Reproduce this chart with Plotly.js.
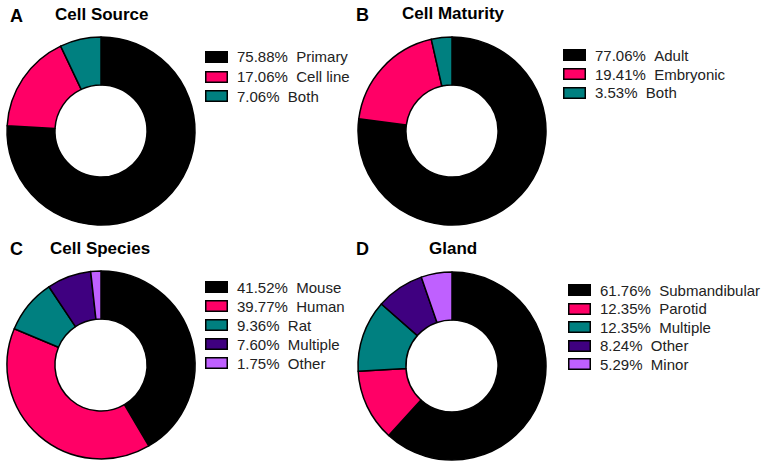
<!DOCTYPE html>
<html>
<head>
<meta charset="utf-8">
<script src="https://cdn.plot.ly/plotly-3.0.1.min.js"></script>
<style>
  html, body { margin: 0; padding: 0; background: #fff; }
  #chart { width: 763px; height: 463px; }
</style>
</head>
<body>
<div id="chart"></div>
<script>
// data
const sourceLabels = ['Primary', 'Cell line', 'Both'];
const sourceValues = [75.88, 17.06, 7.06];

const maturityLabels = ['Adult', 'Embryonic', 'Both'];
const maturityValues = [77.06, 19.41, 3.53];

const speciesLabels = ['Mouse', 'Human', 'Rat', 'Multiple', 'Other'];
const speciesValues = [41.52, 39.77, 9.36, 7.60, 1.75];

const glandLabels = ['Submandibular', 'Parotid', 'Multiple', 'Other', 'Minor'];
const glandValues = [61.76, 12.35, 12.35, 8.24, 5.29];

const palette = ['#000000', '#ff0066', '#008080', '#3f0080', '#bf60ff'];

const W = 763, H = 463;
const px = x => x / W;
const py = y => 1 - y / H;

// panel geometry in pixels: donut centre, legend anchor, title spots
const panels = [
  { letter: 'A', title: 'Cell Source', labels: sourceLabels, values: sourceValues,
    cx: 101, cy: 131, letterX: 8, titleX: 53, titleY: 15, legX: 205, legY: 57, step: 19.5 },
  { letter: 'B', title: 'Cell Maturity', labels: maturityLabels, values: maturityValues,
    cx: 452, cy: 131, letterX: 354, titleX: 400, titleY: 14, legX: 563, legY: 55, step: 19 },
  { letter: 'C', title: 'Cell Species', labels: speciesLabels, values: speciesValues,
    cx: 101, cy: 365, letterX: 8, titleX: 48, titleY: 248, legX: 205, legY: 287, step: 19 },
  { letter: 'D', title: 'Gland', labels: glandLabels, values: glandValues,
    cx: 452, cy: 366, letterX: 354, titleX: 427, titleY: 248, legX: 568, legY: 290, step: 18.5 }
];
const R = 94;

const traces = [];
const annotations = [];

panels.forEach(p => {
  traces.push({
    type: 'pie',
    labels: p.labels,
    values: p.values,
    hole: 0.49,
    sort: false,
    direction: 'clockwise',
    rotation: 0,
    textinfo: 'none',
    showlegend: false,
    marker: { colors: palette.slice(0, p.labels.length), line: { color: '#000', width: 1.5 } },
    domain: { x: [px(p.cx - R), px(p.cx + R)], y: [py(p.cy + R), py(p.cy - R)] }
  });

  annotations.push({
    text: '<b>' + p.letter + '</b>', xref: 'paper', yref: 'paper',
    x: px(p.letterX), y: py(p.titleY + 1), xanchor: 'left', yanchor: 'middle',
    showarrow: false, font: { size: 18, color: '#000' }
  });
  annotations.push({
    text: '<b>' + p.title + '</b>', xref: 'paper', yref: 'paper',
    x: px(p.titleX), y: py(p.titleY), xanchor: 'left', yanchor: 'middle',
    showarrow: false, font: { size: 17, color: '#000' }
  });

  // legend swatches + labels
  p.labels.forEach((lab, i) => {
    const y = p.legY + i * p.step;
    annotations.push({
      text: ' ', xref: 'paper', yref: 'paper',
      x: px(p.legX), y: py(y), xanchor: 'left', yanchor: 'middle',
      showarrow: false, width: 20, height: 9, borderpad: 0,
      bgcolor: palette[i], bordercolor: '#000', borderwidth: 1.5,
      font: { size: 4 }
    });
    annotations.push({
      text: p.values[i].toFixed(2) + '%\u00a0\u00a0' + lab, xref: 'paper', yref: 'paper',
      x: px(p.legX + 30), y: py(y), xanchor: 'left', yanchor: 'middle',
      showarrow: false, font: { size: 15, color: '#222' }
    });
  });
});

const layout = {
  width: W,
  height: H,
  margin: { l: 0, r: 0, t: 0, b: 0 },
  paper_bgcolor: '#fff',
  font: { family: 'Liberation Sans, Arial, sans-serif', color: '#000' },
  showlegend: false,
  annotations: annotations
};

Plotly.newPlot('chart', traces, layout, { displayModeBar: false, staticPlot: true });
</script>
</body>
</html>
